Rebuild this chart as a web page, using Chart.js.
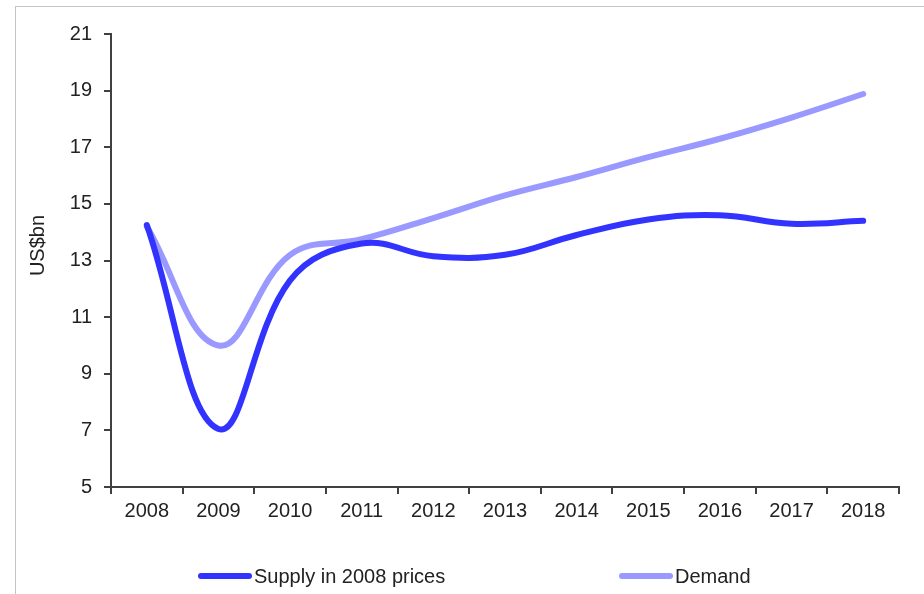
<!DOCTYPE html>
<html>
<head>
<meta charset="utf-8">
<script src="https://cdn.jsdelivr.net/npm/chart.js@4"></script>
<style>
  html, body { margin: 0; padding: 0; background: #fff; }
  body { width: 924px; height: 594px; position: relative; overflow: hidden; font-family: "Liberation Sans", Arial, sans-serif; }
  #frame { position: absolute; left: 15px; top: 6px; width: 920px; height: 600px; border-top: 1px solid #c4c4c4; border-left: 1px solid #c4c4c4; }
  #wrap { position: absolute; left: 0; top: 0; width: 924px; height: 594px; }
  .leg { position: absolute; top: 564px; height: 24px; display: flex; align-items: center; font-size: 20px; color: #222; }
  .leg .swatch { width: 54px; height: 6px; border-radius: 3px; margin-right: 2px; }
</style>
</head>
<body>
<div id="frame"></div>
<div id="wrap"><canvas id="chart" width="924" height="594"></canvas></div>
<div id="legend"></div>
<script>
const years = ['2008', '2009', '2010', '2011', '2012', '2013', '2014', '2015', '2016', '2017', '2018'];
const supply = [14.25, 7.05, 12.3, 13.6, 13.15, 13.2, 13.9, 14.45, 14.6, 14.3, 14.4];
const demand = [14.2, 10.0, 13.2, 13.75, 14.5, 15.3, 15.95, 16.65, 17.3, 18.05, 18.88];
const yTicks = [5, 7, 9, 11, 13, 15, 17, 19, 21];
const yTitle = 'US$bn';

const supplyColor = '#3333ff';
const demandColor = '#9999ff';
const axisColor = '#404040';
const textColor = '#222';
const font = { family: 'Liberation Sans', size: 20 };

// y axis title, drawn a bit above the axis middle like the original
const yTitlePlugin = {
  id: 'yTitle',
  afterDraw(chart) {
    const ctx = chart.ctx;
    const y = chart.scales.y;
    ctx.save();
    ctx.translate(38, (y.top + y.bottom) / 2 - 15);
    ctx.rotate(-Math.PI / 2);
    ctx.font = font.size + 'px ' + font.family;
    ctx.fillStyle = textColor;
    ctx.textAlign = 'center';
    ctx.textBaseline = 'middle';
    ctx.fillText(yTitle, 0, 0);
    ctx.restore();
  }
};

const chart = new Chart(document.getElementById('chart'), {
  type: 'line',
  data: {
    labels: years,
    datasets: [
      { label: 'Supply in 2008 prices', data: supply, borderColor: supplyColor, backgroundColor: supplyColor },
      { label: 'Demand', data: demand, borderColor: demandColor, backgroundColor: demandColor }
    ]
  },
  options: {
    responsive: false,
    animation: false,
    layout: { padding: { left: 0, top: 34, right: 25, bottom: 47 } },
    elements: {
      line: { borderWidth: 6, tension: 0.4, borderCapStyle: 'round', borderJoinStyle: 'round', fill: false },
      point: { radius: 0, hoverRadius: 0 }
    },
    plugins: {
      legend: { display: false },
      tooltip: { enabled: false }
    },
    scales: {
      x: {
        offset: true,
        grid: { offset: true, drawOnChartArea: false, drawTicks: true, tickLength: 7, color: axisColor, lineWidth: 2 },
        border: { display: true, color: axisColor, width: 2 },
        ticks: { color: textColor, font: font, padding: 5, maxRotation: 0 },
        afterFit: s => { s.height = 60; }
      },
      y: {
        min: 5,
        max: 21,
        afterBuildTicks: s => { s.ticks = yTicks.map(v => ({ value: v })); },
        grid: { drawOnChartArea: false, drawTicks: true, tickLength: 7, color: axisColor, lineWidth: 2 },
        border: { display: true, color: axisColor, width: 2 },
        ticks: { color: textColor, font: font, padding: 12 },
        afterFit: s => { s.width = 111; }
      }
    }
  },
  plugins: [yTitlePlugin]
});

// legend drawn as html, spaced like the original
const legendPos = [198, 619];
const legendEl = document.getElementById('legend');
chart.data.datasets.forEach((ds, i) => {
  const item = document.createElement('div');
  item.className = 'leg';
  item.style.left = legendPos[i] + 'px';
  item.innerHTML = '<div class="swatch" style="background:' + ds.borderColor + '"></div><span>' + ds.label + '</span>';
  legendEl.appendChild(item);
});
</script>
</body>
</html>
